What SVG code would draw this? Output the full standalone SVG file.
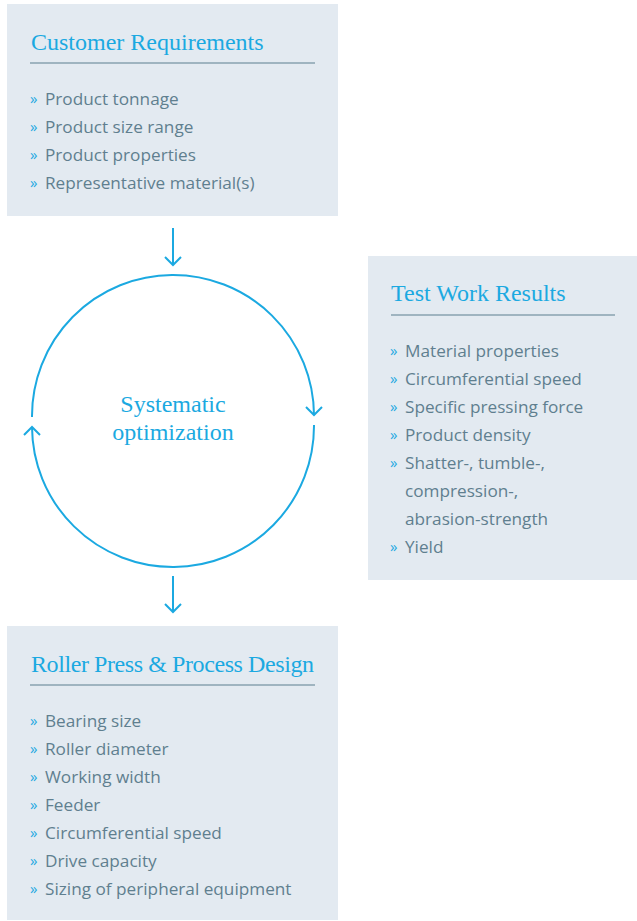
<svg xmlns="http://www.w3.org/2000/svg" width="637" height="921" viewBox="0 0 637 921">
<defs>
<style>
.box{fill:#e3eaf1}
.title{font-family:"Liberation Serif",serif;font-size:24px;fill:#1ba9e1}
.rule{stroke:#5d7f90;stroke-width:1.2}
.item{font-family:"Open Sans","Liberation Sans",sans-serif;font-size:17.2px;fill:#5f7f8f}
.bul{font-family:"Open Sans","Liberation Sans",sans-serif;font-size:15px;fill:#1ba9e1}
.ln{fill:none;stroke:#1ba9e1;stroke-width:2}
.ctext{font-family:"Liberation Serif",serif;font-size:24px;fill:#1ba9e1;text-anchor:middle}
</style>
</defs>
<rect width="637" height="921" fill="#ffffff"/>
<g id="customer">
<rect class="box" x="7" y="4" width="331" height="212"/>
<text class="title" x="31" y="50">Customer Requirements</text>
<line class="rule" x1="30" y1="63" x2="315" y2="63"/>
<text class="bul" x="30" y="104">»</text><text class="item" x="45" y="105">Product tonnage</text>
<text class="bul" x="30" y="132">»</text><text class="item" x="45" y="133">Product size range</text>
<text class="bul" x="30" y="160">»</text><text class="item" x="45" y="161">Product properties</text>
<text class="bul" x="30" y="188">»</text><text class="item" x="45" y="189">Representative material(s)</text>
</g>
<g id="testwork">
<rect class="box" x="368" y="256" width="269" height="324"/>
<text class="title" x="391" y="301">Test Work Results</text>
<line class="rule" x1="391" y1="315" x2="615" y2="315"/>
<text class="bul" x="390" y="356">»</text><text class="item" x="405" y="357">Material properties</text>
<text class="bul" x="390" y="384">»</text><text class="item" x="405" y="385">Circumferential speed</text>
<text class="bul" x="390" y="412">»</text><text class="item" x="405" y="413">Specific pressing force</text>
<text class="bul" x="390" y="440">»</text><text class="item" x="405" y="441">Product density</text>
<text class="bul" x="390" y="468">»</text><text class="item" x="405" y="469">Shatter-, tumble-,</text>
<text class="item" x="405" y="497">compression-,</text>
<text class="item" x="405" y="525">abrasion-strength</text>
<text class="bul" x="390" y="552">»</text><text class="item" x="405" y="553">Yield</text>
</g>
<g id="design">
<rect class="box" x="7" y="626" width="331" height="294"/>
<text class="title" x="31" y="672" textLength="283" lengthAdjust="spacing">Roller Press &amp; Process Design</text>
<line class="rule" x1="30" y1="685" x2="315" y2="685"/>
<text class="bul" x="30" y="726">»</text><text class="item" x="45" y="727">Bearing size</text>
<text class="bul" x="30" y="754">»</text><text class="item" x="45" y="755">Roller diameter</text>
<text class="bul" x="30" y="782">»</text><text class="item" x="45" y="783">Working width</text>
<text class="bul" x="30" y="810">»</text><text class="item" x="45" y="811">Feeder</text>
<text class="bul" x="30" y="838">»</text><text class="item" x="45" y="839">Circumferential speed</text>
<text class="bul" x="30" y="866">»</text><text class="item" x="45" y="867">Drive capacity</text>
<text class="bul" x="30" y="894">»</text><text class="item" x="45" y="895">Sizing of peripheral equipment</text>
</g>
<g id="cycle">
<text class="ctext" x="173" y="412">Systematic</text>
<text class="ctext" x="173" y="440">optimization</text>
</g>
<g id="connectors">
<path class="ln" d="M173 228 V265 M165 257 L173 265 L181 257"/>
<path class="ln" d="M173 576 V612 M165 604 L173 612 L181 604"/>
<path class="ln" d="M32 417 A141 141 0 0 1 314 415"/>
<path class="ln" d="M306 407 L314 415 L322 407"/>
<path class="ln" d="M314 425 A141 141 0 0 1 32 427"/>
<path class="ln" d="M24 435 L32 427 L40 435"/>
</g>
</svg>
